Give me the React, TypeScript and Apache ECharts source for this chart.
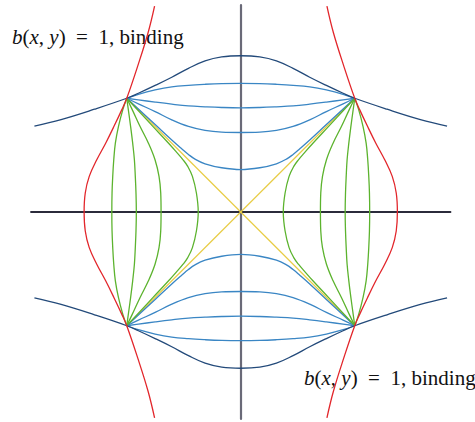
import React, { useEffect, useRef } from "react";
import * as echarts from "echarts";

type P = [number, number];

// Half curves (top-left quadrant, from the corner (-1, 1) to the vertical axis)
const outerHalf: P[] = [
  [-1.81, 0.756], [-1.576, 0.813], [-1.283, 0.904], [-1, 1], [-0.898, 1.044], [-0.751, 1.113],
  [-0.605, 1.185], [-0.459, 1.263], [-0.313, 1.329], [-0.167, 1.364], [0, 1.374],
];
const level1Half: P[] = [
  [-1, 1], [-0.898, 1.035], [-0.751, 1.073], [-0.605, 1.1], [-0.459, 1.114], [-0.313, 1.123], [-0.167, 1.129], [0, 1.131],
];
const level2Half: P[] = [
  [-1, 1], [-0.898, 0.986], [-0.751, 0.966], [-0.605, 0.948], [-0.459, 0.933], [-0.313, 0.925], [-0.167, 0.919], [0, 0.916],
];
const level3Half: P[] = [
  [-1, 1], [-0.898, 0.951], [-0.751, 0.883], [-0.605, 0.81], [-0.459, 0.752], [-0.313, 0.717], [-0.167, 0.702], [0, 0.699],
];
const level4Half: P[] = [
  [-1, 1], [-0.751, 0.769], [-0.605, 0.633], [-0.518, 0.556], [-0.459, 0.506], [-0.401, 0.465], [-0.313, 0.424], [-0.167, 0.389], [0, 0.373],
];
const diagonals: P[][] = [
  [[-1, 1], [1, -1]],
  [[-1, -1], [1, 1]],
];
const labelText = "{i|b}({i|x},\u00a0{i|y})\u00a0\u00a0=\u00a0\u00a01,\u00a0binding";

const DARK = "#234a7a";
const BLUE = "#3a86c4";
const GREEN = "#5cb32e";
const RED = "#e2262b";
const YELLOW = "#e8cc45";

function fullTop(half: P[]): P[] {
  const right = half.slice(0, -1).reverse().map(([x, y]) => [-x, y] as P);
  return [...half, ...right];
}

function lineSeries(data: P[], color: string, width = 1.3, z = 2) {
  return {
    type: "line",
    data,
    showSymbol: false,
    symbol: "none",
    smooth: 0.4,
    silent: true,
    z,
    lineStyle: { color, width },
  };
}

export default function App() {
  const ref = useRef<HTMLDivElement>(null);
  useEffect(() => {
    if (!ref.current) return;
    const chart = echarts.init(ref.current, undefined, { renderer: "svg" });
    const series: any[] = [];
    diagonals.forEach((d) => series.push(lineSeries(d, YELLOW, 1.2, 1)));
    const families: [P[], string, string][] = [
      [level1Half, BLUE, GREEN],
      [level2Half, BLUE, GREEN],
      [level3Half, BLUE, GREEN],
      [level4Half, BLUE, GREEN],
      [outerHalf, DARK, RED],
    ];
    families.forEach(([half, cTB, cLR]) => {
      const top = fullTop(half);
      const bottom = top.map(([x, y]) => [x, -y] as P);
      const left = top.map(([x, y]) => [-y, x] as P);
      const right = left.map(([x, y]) => [-x, y] as P);
      series.push(lineSeries(top, cTB));
      series.push(lineSeries(bottom, cTB));
      series.push(lineSeries(left, cLR));
      series.push(lineSeries(right, cLR));
    });
    const font = "Liberation Serif";
    const fs = 21;
    const label = (x: number, y: number) => ({
      type: "text",
      x,
      y,
      silent: true,
      style: {
        text: labelText,
        fill: "#111",
        fontFamily: font,
        fontSize: fs,
        textVerticalAlign: "middle",
        rich: { i: { fontStyle: "italic", fontFamily: font, fontSize: fs, fill: "#111" } },
      },
    });
    chart.setOption({
      animation: false,
      backgroundColor: "#fff",
      grid: { left: 31, top: 5, width: 419.5, height: 414, outerBoundsMode: "none" },
      xAxis: {
        type: "value",
        min: -1.84,
        max: 1.84,
        axisLine: { onZero: true, lineStyle: { color: "#2b2b3b", width: 1.8 } },
        axisTick: { show: false },
        axisLabel: { show: false },
        splitLine: { show: false },
      },
      yAxis: {
        type: "value",
        min: -1.82,
        max: 1.82,
        axisLine: { onZero: true, lineStyle: { color: "#6a6a78", width: 2.2 } },
        axisTick: { show: false },
        axisLabel: { show: false },
        splitLine: { show: false },
      },
      series,
      graphic: [label(12, 37), label(304, 378)],
    });
    return () => chart.dispose();
  }, []);
  return (
    <div
      ref={ref}
      style={{ position: "absolute", left: 0, top: 0, width: 475, height: 422 }}
    />
  );
}
